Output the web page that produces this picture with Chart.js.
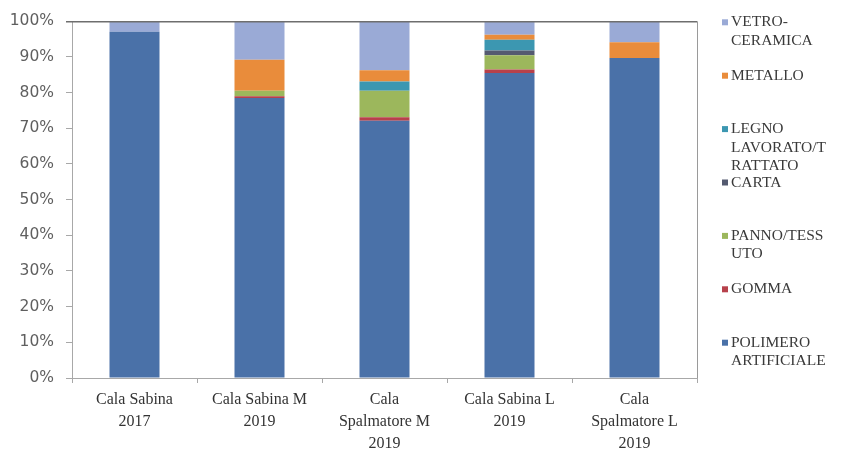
<!DOCTYPE html>
<html>
<head>
<meta charset="utf-8">
<script src="https://cdn.jsdelivr.net/npm/chart.js@4/dist/chart.umd.min.js"></script>
<style>
  html, body { margin: 0; padding: 0; background: #ffffff; }
  canvas { display: block; }
</style>
</head>
<body>
<canvas id="c" width="865" height="452"></canvas>
<script>
// Sites (multi-line category labels)
const categories = [
  ['Cala Sabina', '2017'],
  ['Cala Sabina M', '2019'],
  ['Cala', 'Spalmatore M', '2019'],
  ['Cala Sabina L', '2019'],
  ['Cala', 'Spalmatore L', '2019']
];

// Share of each material (%), stacked bottom to top
const polimero = [97.1, 78.5, 72.1, 85.5, 89.7];
const gomma    = [0,    0.5,  1.0,  1.0,  0];
const panno    = [0,    1.5,  7.4,  4.0,  0];
const carta    = [0,    0,    0,    1.3,  0];
const legno    = [0,    0,    2.6,  3.0,  0];
const metallo  = [0,    8.7,  3.2,  1.4,  4.4];
const vetro    = [2.9,  10.8, 13.7, 3.8,  5.9];

const seriesNames = ['POLIMERO ARTIFICIALE', 'GOMMA', 'PANNO/TESSUTO', 'CARTA',
                     'LEGNO LAVORATO/TRATTATO', 'METALLO', 'VETRO-CERAMICA'];
// Legend text as wrapped lines (the legend box cuts the longest ones)
const legendLines = [
  ['POLIMERO', 'ARTIFICIALE'],
  ['GOMMA'],
  ['PANNO/TESS', 'UTO'],
  ['CARTA'],
  ['LEGNO', 'LAVORATO/T', 'RATTATO'],
  ['METALLO'],
  ['VETRO-', 'CERAMICA']
];
const yTicks = [0, 10, 20, 30, 40, 50, 60, 70, 80, 90, 100];

const colors = ['#4A71A8', '#B7414B', '#9CB75C', '#545A70', '#3C97B1', '#E98C3B', '#9AAAD6'];
const seriesValues = [polimero, gomma, panno, carta, legno, metallo, vetro];

const datasets = seriesValues.map((vals, i) => ({
  label: seriesNames[i],
  data: vals,
  backgroundColor: colors[i],
  borderWidth: 0,
  categoryPercentage: 1.0,
  barPercentage: 0.4
}));

// Frame on the top and right sides of the plot area
const plotFrame = {
  id: 'plotFrame',
  afterDatasetsDraw(chart) {
    const { ctx, chartArea: a } = chart;
    ctx.save();
    ctx.strokeStyle = '#6e6e6e';
    ctx.lineWidth = 1.5;
    ctx.beginPath();
    ctx.moveTo(a.left - 6, a.top + 0.5);
    ctx.lineTo(a.right, a.top + 0.5);
    ctx.stroke();
    ctx.strokeStyle = '#9a9a9a';
    ctx.lineWidth = 1;
    ctx.beginPath();
    ctx.moveTo(a.right + 0.5, a.top);
    ctx.lineTo(a.right + 0.5, a.bottom);
    ctx.stroke();
    ctx.restore();
  }
};

// Legend on the right, listed top series first
const sideLegend = {
  id: 'sideLegend',
  afterDraw(chart) {
    const { ctx, chartArea: a } = chart;
    const x0 = a.right + 25;
    const step = 53.4;
    const lineH = 18.5;
    ctx.save();
    ctx.font = '15.5px "Liberation Serif", serif';
    ctx.textBaseline = 'middle';
    ctx.textAlign = 'left';
    const n = chart.data.datasets.length;
    for (let k = 0; k < n; k++) {
      const i = n - 1 - k;
      const ds = chart.data.datasets[i];
      const y = a.top + 1 + k * step;
      ctx.fillStyle = ds.backgroundColor;
      ctx.fillRect(x0, y - 3, 6, 6);
      ctx.fillStyle = '#3a3a3a';
      legendLines[i].forEach((t, j) => ctx.fillText(t, x0 + 9, y + j * lineH));
    }
    ctx.restore();
  }
};

new Chart(document.getElementById('c'), {
  type: 'bar',
  data: { labels: categories, datasets },
  plugins: [plotFrame, sideLegend],
  options: {
    responsive: false,
    animation: false,
    layout: { padding: { left: 0, right: 168, top: 18, bottom: 0 } },
    plugins: {
      legend: { display: false },
      tooltip: { enabled: false }
    },
    scales: {
      x: {
        stacked: true,
        offset: true,
        border: { display: true, color: '#a8a8a8', width: 1 },
        grid: { display: true, drawOnChartArea: false, offset: true, tickLength: 5, color: '#a8a8a8' },
        ticks: {
          color: '#333333',
          font: { family: '"Liberation Serif", serif', size: 16, lineHeight: 1.375 },
          padding: 6,
          maxRotation: 0,
          autoSkip: false
        },
        afterFit(s) { s.height = 74; }
      },
      y: {
        stacked: true,
        min: 0,
        max: 100,
        afterBuildTicks(s) { s.ticks = yTicks.map(v => ({ value: v })); },
        border: { display: true, color: '#a8a8a8', width: 1 },
        grid: { display: true, drawOnChartArea: false, tickLength: 6, color: '#a8a8a8' },
        ticks: {
          color: '#5f5f5f',
          font: { family: '"DejaVu Sans", sans-serif', size: 15.5 },
          padding: 12,
          callback: v => v + '%'
        },
        afterFit(s) { s.width = 72; }
      }
    }
  }
});
</script>
</body>
</html>
